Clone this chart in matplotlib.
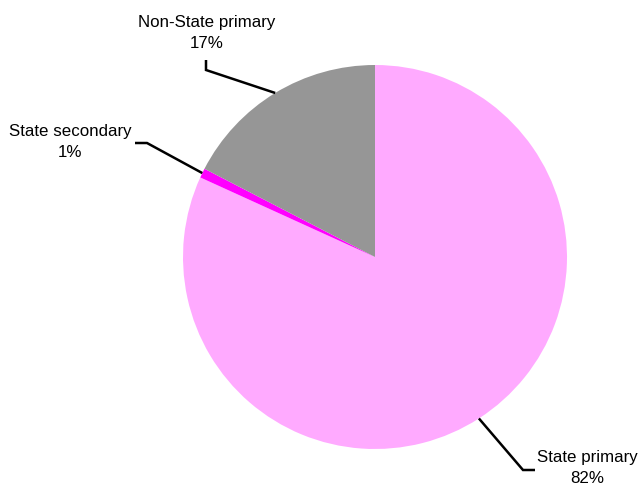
import matplotlib.pyplot as plt
import numpy as np

plt.rcParams['font.family'] = ['Liberation Sans', 'DejaVu Sans']

labels = ["State primary", "State secondary", "Non-State primary"]
values = [81.8, 0.8, 17.4]
pct_text = ["82%", "1%", "17%"]
colors = ["#FFAAFF", "#FF00FF", "#969696"]

# pie geometry in pixels (center, radius) of the 639x486 figure
CX, CY, R = 375, 257, 192


def px(x, y):
    return (x - CX) / R, (CY - y) / R


fig = plt.figure(figsize=(6.39, 4.86), dpi=100)
ax = fig.add_axes([0, 0, 1, 1])
wedges, _ = ax.pie(values, colors=colors, startangle=90, counterclock=False,
                   radius=1.0, wedgeprops=dict(linewidth=0))
ax.set_xlim(-CX / R, (639 - CX) / R)
ax.set_ylim(-(486 - CY) / R, CY / R)
ax.axis("off")

# leader line elbow / end points and text centres (pixels)
elbows = [((523, 470), (535, 470)), ((147, 143), (135, 143)), ((206, 70), (206, 60))]
text_pos = [(587, 468), (70, 142), (207, 33)]

for w, (e1, e2), tp, lab, pct in zip(wedges, elbows, text_pos, labels, pct_text):
    ang = np.deg2rad((w.theta1 + w.theta2) / 2)
    x0, y0 = np.cos(ang), np.sin(ang)
    x1, y1 = px(*e1)
    x2, y2 = px(*e2)
    ax.plot([x0, x1, x2], [y0, y1, y2], color="black", lw=1.8,
            solid_capstyle="butt", solid_joinstyle="miter")
    tx, ty = px(*tp)
    ax.text(tx, ty, lab + "\n" + pct, ha="center", va="center",
            fontsize=12.2, linespacing=1.45)

fig.savefig("out.png", dpi=100)
